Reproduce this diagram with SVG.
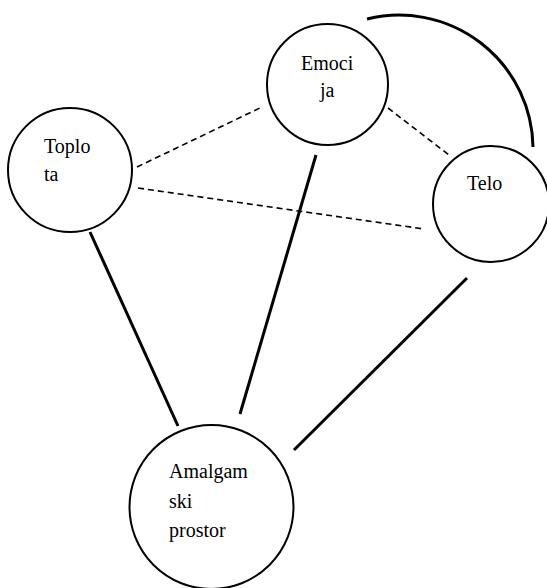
<svg xmlns="http://www.w3.org/2000/svg" width="547" height="588" viewBox="0 0 547 588">
  <style>
    .node { fill: #fff; stroke: #000; stroke-width: 2; }
    .label { font-family: "Liberation Serif", "Times New Roman", serif; font-size: 20px; fill: #000; }
    .solid { stroke: #000; stroke-width: 3; fill: none; }
    .dashed { stroke: #000; stroke-width: 1.6; stroke-dasharray: 6 4; fill: none; }
  </style>
  <rect width="547" height="588" fill="#fff"/>
  <g id="connectors">
    <line class="dashed" x1="137" y1="167" x2="262" y2="107"/>
    <line class="dashed" x1="388" y1="108" x2="449" y2="155"/>
    <line class="dashed" x1="138" y1="188" x2="424" y2="229"/>
    <line class="solid" x1="316" y1="155" x2="240" y2="414"/>
    <line class="solid" x1="90" y1="232" x2="178" y2="426"/>
    <line class="solid" x1="467" y1="278" x2="294" y2="450"/>
    <path class="solid" d="M367 19 A134 134 0 0 1 533 147"/>
  </g>
  <g id="toplota">
    <circle class="node" cx="70" cy="170" r="62"/>
    <text class="label" x="44" y="153">Toplo</text>
    <text class="label" x="44" y="181">ta</text>
  </g>
  <g id="emocija">
    <circle class="node" cx="327.5" cy="84.5" r="60.5"/>
    <text class="label" x="301" y="70">Emoci</text>
    <text class="label" x="320" y="97">ja</text>
  </g>
  <g id="telo">
    <circle class="node" cx="491" cy="204" r="58"/>
    <text class="label" x="467" y="190">Telo</text>
  </g>
  <g id="amalgamski-prostor">
    <circle class="node" cx="211.5" cy="507" r="82"/>
    <text class="label" x="169" y="478">Amalgam</text>
    <text class="label" x="169" y="508">ski</text>
    <text class="label" x="169" y="537">prostor</text>
  </g>
</svg>
